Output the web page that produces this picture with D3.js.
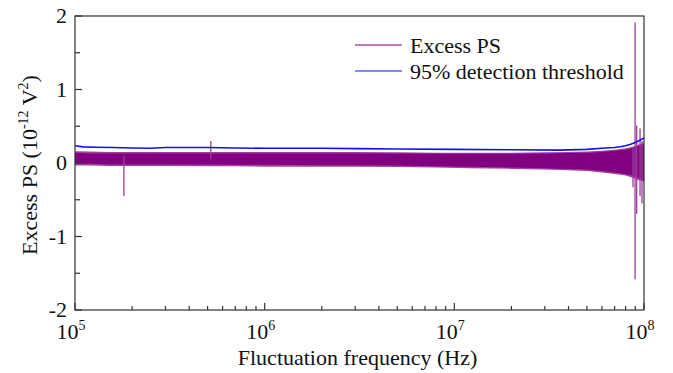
<!DOCTYPE html>
<html>
<head>
<meta charset="utf-8">
<script src="https://cdn.jsdelivr.net/npm/d3@7"></script>
<style>
  html, body { margin: 0; padding: 0; background: #fff; }
</style>
</head>
<body>
<div id="chart"></div>
<script>
// Excess power spectrum vs fluctuation frequency, with 95% detection threshold.
// The noisy excess-PS trace is drawn as its read-off envelope plus the few visible spikes.

const bandFreq  = [1e5, 1.2e5, 1.5e5, 2e5, 3e5, 5e5, 7e5, 1e6, 2e6, 3e6, 5e6, 8e6, 1.2e7, 2e7, 3e7, 4e7, 5e7, 6e7, 7e7, 8e7, 8.7e7, 9.3e7, 1e8];
const bandUpper = [0.14, 0.13, 0.13, 0.13, 0.13, 0.13, 0.13, 0.13, 0.13, 0.13, 0.13, 0.125, 0.125, 0.125, 0.13, 0.135, 0.14, 0.15, 0.165, 0.18, 0.2, 0.23, 0.26];
const bandLower = [-0.01, -0.01, -0.02, -0.02, -0.02, -0.02, -0.025, -0.025, -0.03, -0.03, -0.035, -0.045, -0.05, -0.06, -0.07, -0.08, -0.09, -0.11, -0.13, -0.15, -0.17, -0.2, -0.23];
// ragged fringe reached by the noise beyond the solid core
const fringeUpper = [0.16, 0.155, 0.15, 0.15, 0.15, 0.15, 0.15, 0.15, 0.15, 0.15, 0.145, 0.14, 0.14, 0.14, 0.145, 0.15, 0.155, 0.165, 0.18, 0.2, 0.22, 0.25, 0.28];
const fringeLower = [-0.035, -0.035, -0.04, -0.04, -0.04, -0.045, -0.045, -0.05, -0.05, -0.05, -0.055, -0.06, -0.07, -0.08, -0.09, -0.1, -0.11, -0.13, -0.15, -0.17, -0.2, -0.23, -0.25];

const spikeFreq = [1.81e5, 5.2e5, 8.75e7, 8.97e7, 9.15e7, 9.53e7, 9.76e7];
const spikeLow  = [-0.45, 0.05, -0.33, -1.58, -0.69, -0.45, -0.55];
const spikeHigh = [0.1, 0.3, 0.2, 1.91, 0.51, 0.47, 0.3];

const threshFreq = [1e5, 1.1e5, 1.3e5, 1.6e5, 2e5, 2.5e5, 3e5, 4e5, 5e5, 7e5, 1e6, 2e6, 3e6, 5e6, 1e7, 2e7, 3.6e7, 5e7, 6e7, 7e7, 7.5e7, 8e7, 8.5e7, 9e7, 9.5e7, 1e8];
const threshVal  = [0.235, 0.22, 0.215, 0.21, 0.205, 0.2, 0.21, 0.21, 0.21, 0.205, 0.2, 0.2, 0.195, 0.19, 0.185, 0.18, 0.175, 0.185, 0.2, 0.21, 0.22, 0.235, 0.255, 0.28, 0.31, 0.34];

const xMajor = [1e5, 1e6, 1e7, 1e8];
const xExp = [5, 6, 7, 8];
const yMajor = [-2, -1, 0, 1, 2];
const yMinor = [-1.5, -0.5, 0.5, 1.5];
const legendLabels = ["Excess PS", "95% detection threshold"];

const W = 673, H = 373;
const m = { top: 16, right: 29, bottom: 63, left: 75 };
const iw = W - m.left - m.right;
const ih = H - m.top - m.bottom;

const purple = "#800080", spikeColor = "#9a3c9a", blue = "#1010ff", axisColor = "#333";
const serif = "Liberation Serif";
const fs = 22, sup = 14;

const svg = d3.select("#chart").append("svg").attr("width", W).attr("height", H);
const g = svg.append("g").attr("transform", `translate(${m.left},${m.top})`);

const x = d3.scaleLog().domain([1e5, 1e8]).range([0, iw]);
const y = d3.scaleLinear().domain([-2, 2]).range([ih, 0]);

const band = bandFreq.map((f, i) => ({ f, hi: bandUpper[i], lo: bandLower[i], fh: fringeUpper[i], fl: fringeLower[i] }));

g.append("path").datum(band)
  .attr("fill", purple).attr("opacity", 0.75)
  .attr("d", d3.area().x((d) => x(d.f)).y0((d) => y(d.fl)).y1((d) => y(d.fh)));
g.append("path").datum(band)
  .attr("fill", purple)
  .attr("d", d3.area().x((d) => x(d.f)).y0((d) => y(d.lo)).y1((d) => y(d.hi)));

g.selectAll("line.spike").data(spikeFreq).join("line").attr("class", "spike")
  .attr("x1", (d) => x(d)).attr("x2", (d) => x(d))
  .attr("y1", (d, i) => y(spikeLow[i])).attr("y2", (d, i) => y(spikeHigh[i]))
  .attr("stroke", spikeColor).attr("stroke-width", 1.3);

g.append("path").datum(threshFreq.map((f, i) => [f, threshVal[i]]))
  .attr("fill", "none").attr("stroke", blue).attr("stroke-width", 1.6)
  .attr("d", d3.line().x((d) => x(d[0])).y((d) => y(d[1])));

// frame
g.append("rect").attr("width", iw).attr("height", ih)
  .attr("fill", "none").attr("stroke", axisColor).attr("stroke-width", 1.2);

// inward ticks
const xMinor = [];
xMajor.slice(0, -1).forEach((d) => { for (let k = 2; k <= 9; k++) xMinor.push(d * k); });
const tk = g.append("g").attr("stroke", axisColor).attr("stroke-width", 1.2);
tk.selectAll("line.xM").data(xMajor).join("line").attr("class", "xM")
  .attr("x1", (d) => x(d)).attr("x2", (d) => x(d)).attr("y1", ih).attr("y2", ih - 7);
tk.selectAll("line.xm").data(xMinor).join("line").attr("class", "xm")
  .attr("x1", (d) => x(d)).attr("x2", (d) => x(d)).attr("y1", ih).attr("y2", ih - 4);
tk.selectAll("line.yM").data(yMajor).join("line").attr("class", "yM")
  .attr("x1", 0).attr("x2", 7).attr("y1", (d) => y(d)).attr("y2", (d) => y(d));
tk.selectAll("line.ym").data(yMinor).join("line").attr("class", "ym")
  .attr("x1", 0).attr("x2", 5).attr("y1", (d) => y(d)).attr("y2", (d) => y(d));

// tick labels
g.selectAll("text.yl").data(yMajor).join("text").attr("class", "yl")
  .attr("font-family", serif).attr("fill", "#111")
  .attr("x", -8).attr("y", (d) => y(d) + 7).attr("text-anchor", "end")
  .attr("font-size", fs).text((d) => d);

const xl = g.selectAll("text.xl").data(xMajor).join("text").attr("class", "xl")
  .attr("font-family", serif).attr("fill", "#111")
  .attr("x", (d) => x(d) - 4).attr("y", ih + 29).attr("text-anchor", "middle").attr("font-size", fs);
xl.append("tspan").text("10");
xl.append("tspan").attr("font-size", sup).attr("dy", -9).text((d, i) => xExp[i]);

// axis titles
svg.append("text").attr("font-family", serif).attr("fill", "#111")
  .attr("x", m.left + iw / 2 - 2).attr("y", H - 8).attr("text-anchor", "middle")
  .attr("font-size", fs).text("Fluctuation frequency (Hz)");

const yt = svg.append("text").attr("font-family", serif).attr("fill", "#111")
  .attr("transform", `translate(37,${m.top + ih / 2 + 2}) rotate(-90)`)
  .attr("text-anchor", "middle").attr("font-size", fs);
yt.append("tspan").text("Excess PS (10");
yt.append("tspan").attr("font-size", sup).attr("dy", -9).text("-12");
yt.append("tspan").attr("dy", 9).text(" V");
yt.append("tspan").attr("font-size", sup).attr("dy", -9).text("2");
yt.append("tspan").attr("dy", 9).text(")");

// legend
const lg = svg.append("g").attr("transform", "translate(355,45)");
[purple, blue].forEach((c, i) => {
  lg.append("line").attr("x1", 0).attr("x2", 47).attr("y1", i * 26).attr("y2", i * 26)
    .attr("stroke", c).attr("stroke-width", 1.2);
  lg.append("text").attr("font-family", serif).attr("fill", "#111")
    .attr("x", 55).attr("y", i * 26 + 8).attr("font-size", fs).text(legendLabels[i]);
});
</script>
</body>
</html>
